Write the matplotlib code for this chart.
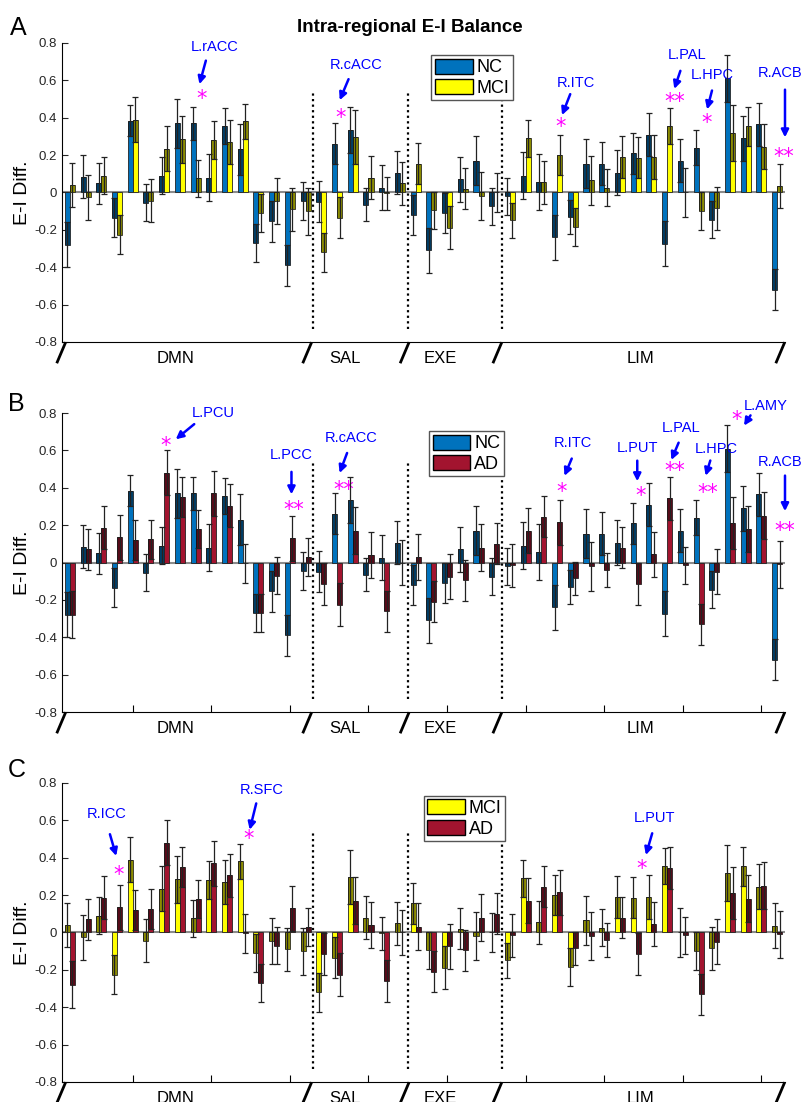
import numpy as np
import matplotlib
matplotlib.use("Agg")
import matplotlib.pyplot as plt
import matplotlib.transforms as mtransforms
from matplotlib.patches import Patch

plt.rcParams['font.family'] = ['Liberation Sans', 'DejaVu Sans']

# 46 regions: DMN 1-16, SAL 17-22, EXE 23-28, LIM 29-46
networks = ["DMN", "SAL", "EXE", "LIM"]
net_sizes = [16, 6, 6, 18]

nc = [-0.28, 0.085, 0.05, -0.135, 0.385, -0.055, 0.09, 0.37, 0.37, 0.08, 0.355, 0.23, -0.27, -0.155, -0.39, -0.045,
      -0.05, 0.26, 0.335, -0.065, 0.025, 0.105,
      -0.12, -0.31, -0.11, 0.07, 0.17, -0.075,
      -0.02, 0.09, 0.055, -0.24, -0.13, 0.155, 0.155, 0.105, 0.21, 0.31, -0.275, 0.17, 0.24, -0.145, 0.61, 0.29, 0.365, -0.52]
nc_err = [0.12, 0.115, 0.11, 0.105, 0.085, 0.10, 0.10, 0.13, 0.09, 0.125, 0.095, 0.135, 0.10, 0.11, 0.11, 0.10,
          0.11, 0.11, 0.125, 0.09, 0.12, 0.115,
          0.105, 0.12, 0.105, 0.12, 0.13, 0.10,
          0.10, 0.125, 0.15, 0.12, 0.09, 0.13, 0.115, 0.12, 0.11, 0.115, 0.12, 0.115, 0.095, 0.10, 0.125, 0.12, 0.115, 0.11]

mci = [0.04, -0.025, 0.09, -0.225, 0.39, -0.045, 0.235, 0.285, 0.075, 0.28, 0.27, 0.38, -0.11, -0.045, -0.09, -0.10,
       -0.32, -0.135, 0.295, 0.08, -0.005, 0.05,
       0.155, -0.095, -0.19, 0.02, -0.02, 0.0,
       -0.15, 0.29, 0.055, 0.2, -0.185, 0.065, 0.025, 0.19, 0.185, 0.19, 0.355, 0.0, -0.1, -0.085, 0.32, 0.355, 0.245, 0.035]
mci_err = [0.12, 0.12, 0.10, 0.105, 0.12, 0.115, 0.12, 0.125, 0.10, 0.10, 0.12, 0.095, 0.10, 0.125, 0.115, 0.125,
           0.105, 0.11, 0.145, 0.115, 0.09, 0.115,
           0.11, 0.10, 0.115, 0.11, 0.13, 0.105,
           0.095, 0.10, 0.115, 0.105, 0.10, 0.13, 0.10, 0.11, 0.11, 0.12, 0.095, 0.13, 0.10, 0.115, 0.15, 0.105, 0.12, 0.12]

ad = [-0.28, 0.07, 0.185, 0.135, 0.12, 0.125, 0.48, 0.35, 0.18, 0.37, 0.305, -0.005, -0.27, -0.07, 0.13, 0.03,
      -0.115, -0.225, 0.17, 0.04, -0.26, 0.0,
      0.03, -0.21, -0.075, -0.095, 0.08, 0.10,
      -0.015, 0.17, 0.245, 0.215, -0.085, -0.02, -0.04, 0.08, -0.115, 0.045, 0.345, -0.015, -0.33, -0.05, 0.21, 0.18, 0.25, -0.01]
ad_err = [0.125, 0.11, 0.115, 0.12, 0.105, 0.105, 0.12, 0.105, 0.10, 0.12, 0.115, 0.105, 0.10, 0.10, 0.12, 0.10,
          0.11, 0.115, 0.125, 0.125, 0.11, 0.12,
          0.125, 0.11, 0.12, 0.11, 0.125, 0.11,
          0.115, 0.12, 0.11, 0.12, 0.09, 0.13, 0.09, 0.11, 0.11, 0.12, 0.115, 0.10, 0.11, 0.12, 0.14, 0.125, 0.125, 0.125]

# (label, text xy, arrow start, arrow end, stars, star xy)
notes_a = [("L.rACC", (10.2, 0.78), (9.7, 0.72), (9.2, 0.565), "*", (9.4, 0.50)),
           ("R.cACC", (19.2, 0.68), (18.8, 0.62), (18.1, 0.48), "*", (18.2, 0.40)),
           ("R.ITC", (33.2, 0.585), (32.9, 0.54), (32.25, 0.40), "*", (32.25, 0.35)),
           ("L.PAL", (40.3, 0.735), (39.9, 0.665), (39.4, 0.54), "**", (39.5, 0.485)),
           ("L.HPC", (41.9, 0.63), (41.9, 0.56), (41.5, 0.43), "*", (41.5, 0.37)),
           ("R.ACB", (46.2, 0.64), (46.5, 0.565), (46.5, 0.28), "**", (46.4, 0.19))]
notes_b = [("L.PCU", (10.1, 0.80), (9.05, 0.75), (7.6, 0.65), "*", (7.1, 0.625)),
           ("L.PCC", (15.1, 0.575), (15.1, 0.50), (15.1, 0.35), "**", (15.25, 0.28)),
           ("R.cACC", (18.9, 0.665), (18.7, 0.60), (18.1, 0.465), "**", (18.4, 0.39)),
           ("R.ITC", (33.0, 0.64), (33.0, 0.57), (32.4, 0.45), "*", (32.3, 0.375)),
           ("L.PUT", (37.1, 0.615), (37.1, 0.56), (37.1, 0.42), "*", (37.3, 0.355)),
           ("L.PAL", (39.9, 0.72), (39.8, 0.655), (39.2, 0.535), "**", (39.5, 0.49)),
           ("L.HPC", (42.1, 0.61), (41.8, 0.56), (41.4, 0.45), "**", (41.6, 0.37)),
           ("L.AMY", (45.3, 0.84), (44.4, 0.80), (43.8, 0.72), "*", (43.4, 0.765)),
           ("R.ACB", (46.2, 0.54), (46.5, 0.48), (46.5, 0.26), "**", (46.5, 0.17))]
notes_c = [("R.ICC", (3.35, 0.635), (3.5, 0.54), (4.0, 0.395), "*", (4.1, 0.31)),
           ("R.SFC", (13.2, 0.76), (12.9, 0.705), (12.4, 0.535), "*", (12.4, 0.50)),
           ("L.PUT", (38.2, 0.61), (38.1, 0.545), (37.6, 0.40), "*", (37.4, 0.34))]

BLUE = "#0072BD"
YEL = "#FFFF00"
RED = "#A2142F"

x = np.arange(1, 47)
w = 0.32
off = 0.16


def draw_bars(ax, xs, vals, errs, color):
    vals = np.array(vals)
    errs = np.array(errs)
    ax.bar(xs, vals, w, color=color, edgecolor="#222222", linewidth=0.6, zorder=2)
    # darker part where the bar lies inside its own error range
    lo = np.where(vals >= 0, np.maximum(0, vals - errs), vals)
    hi = np.where(vals >= 0, vals, np.minimum(0, vals + errs))
    ax.bar(xs, hi - lo, w, bottom=lo, color="black", alpha=0.45, linewidth=0, zorder=3)
    ax.errorbar(xs, vals, yerr=errs, fmt="none", ecolor="#222222", elinewidth=0.9,
                capsize=2.5, capthick=0.9, zorder=4)


def panel(ax, s1, e1, c1, n1, s2, e2, c2, n2, notes, ticks, leg_anchor):
    ax.axhline(0, color="#8c8c8c", lw=1.5, zorder=1)
    draw_bars(ax, x - off, s1, e1, c1)
    draw_bars(ax, x + off, s2, e2, c2)
    ax.set_xlim(0.5, 46.5)
    ax.set_ylim(-0.8, 0.8)
    ax.set_yticks(np.arange(-0.8, 0.81, 0.2))
    ax.set_yticklabels(["-0.8", "-0.6", "-0.4", "-0.2", "0", "0.2", "0.4", "0.6", "0.8"])
    ax.tick_params(axis="y", direction="in", labelsize=9.5, length=4, colors="#262626")
    if ticks:
        ax.set_xticks(np.arange(5, 46, 5))
        ax.tick_params(axis="x", direction="in", length=5, labelbottom=False)
    else:
        ax.set_xticks([])
    for sp in ["top", "right"]:
        ax.spines[sp].set_visible(False)
    ax.set_ylabel("E-I Diff.", fontsize=14, labelpad=2)

    bounds = np.cumsum(net_sizes)[:-1] + 0.5
    for b in bounds:
        ax.plot([b, b], [-0.73, 0.53], color="black", ls=(0, (1, 1.5)), lw=1.6, zorder=1)

    trans = mtransforms.blended_transform_factory(ax.transData, ax.transAxes)
    slashes = [0.45, 16.1, 22.3, 28.2, 46.2]
    for s in slashes:
        ax.plot([s - 0.25, s + 0.25], [-0.067, -0.005], color="black", lw=2,
                transform=trans, clip_on=False)
    centers = [7.7, 18.5, 24.6, 37.3]
    for name, cx in zip(networks, centers):
        ax.text(cx, -0.055, name, transform=trans, ha="center", va="center", fontsize=12)

    for lab, txy, a0, a1, st, sxy in notes:
        ax.text(txy[0], txy[1], lab, color="blue", fontsize=10.5, ha="center", va="center", clip_on=False)
        ax.annotate("", xy=a1, xytext=a0,
                    arrowprops=dict(arrowstyle="-|>", color="blue", lw=1.8, mutation_scale=11),
                    annotation_clip=False)
        ax.text(sxy[0], sxy[1], st, color="magenta", fontsize=15, family="DejaVu Sans",
                ha="center", va="center", clip_on=False)

    handles = [Patch(facecolor=c1, edgecolor="black", label=n1),
               Patch(facecolor=c2, edgecolor="black", label=n2)]
    leg = ax.legend(handles=handles, loc="upper left", bbox_to_anchor=leg_anchor, fontsize=13,
                    handlelength=2.1, handleheight=0.9, handletextpad=0.2, labelspacing=0.15,
                    borderpad=0.2, fancybox=False, framealpha=1, edgecolor="#555555")
    leg.get_frame().set_linewidth(1)


fig = plt.figure(figsize=(8.02, 11.02), dpi=100)
axA = fig.add_axes([0.0773, 0.6897, 0.9015, 0.2713])
axB = fig.add_axes([0.0773, 0.3539, 0.9015, 0.2713])
axC = fig.add_axes([0.0773, 0.0182, 0.9015, 0.2713])

panel(axA, nc, nc_err, BLUE, "NC", mci, mci_err, YEL, "MCI", notes_a, False, (0.498, 0.99))
panel(axB, nc, nc_err, BLUE, "NC", ad, ad_err, RED, "AD", notes_b, True, (0.495, 0.97))
panel(axC, mci, mci_err, YEL, "MCI", ad, ad_err, RED, "AD", notes_c, True, (0.488, 0.987))

fig.text(0.511, 0.975, "Intra-regional E-I Balance", fontsize=13.5, fontweight="bold", ha="center", va="center")
fig.text(0.012, 0.975, "A", fontsize=18, va="center")
fig.text(0.010, 0.633, "B", fontsize=18, va="center")
fig.text(0.010, 0.301, "C", fontsize=18, va="center")

fig.savefig("out.png", dpi=100)
